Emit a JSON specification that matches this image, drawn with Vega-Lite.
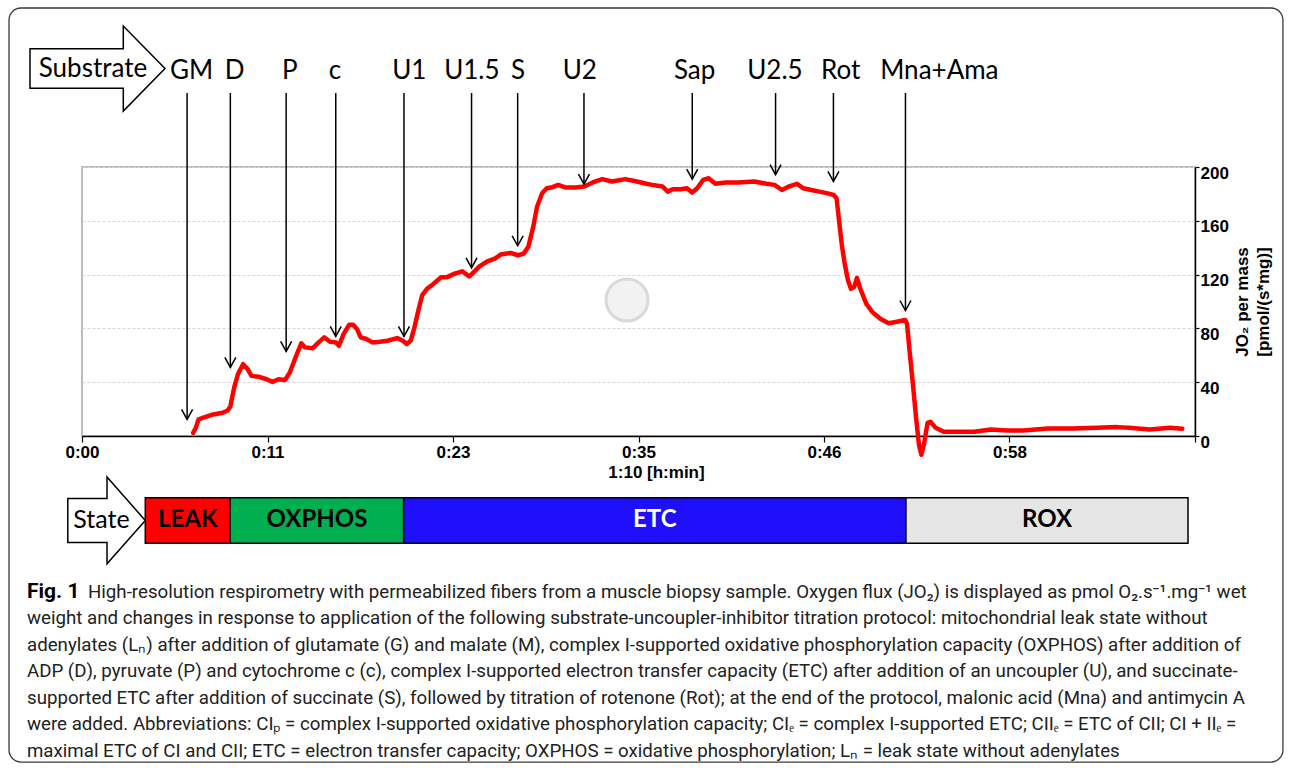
{
  "$schema": "https://vega.github.io/schema/vega-lite/v6.json",
  "width": 1113,
  "height": 269,
  "autosize": {"type": "none"},
  "padding": {"left": 82, "top": 167, "right": 97, "bottom": 336},
  "background": "white",
  "config": {
    "view": {"stroke": "#a6a6a6", "strokeWidth": 1.5},
    "axis": {"labelFont": "Liberation Sans", "titleFont": "Liberation Sans", "labelFontWeight": "bold", "titleFontWeight": "bold", "labelColor": "black", "titleColor": "black", "labelFontSize": 17, "titleFontSize": 17, "domainColor": "black", "tickColor": "black", "domainWidth": 1.5, "tickWidth": 1.2, "labelOverlap": false, "labelFlush": false}
  },
  "datasets": {
    "trace": [
      {"t": 6.99, "v": 2.3}, {"t": 7.16, "v": 6.1}, {"t": 7.33, "v": 12.3}, {"t": 7.64, "v": 13.6}, {"t": 8.25, "v": 16}, {"t": 8.85, "v": 17.3}, {"t": 9.16, "v": 19}, {"t": 9.33, "v": 22}, {"t": 9.57, "v": 36}, {"t": 9.81, "v": 46}, {"t": 10.13, "v": 53.4}, {"t": 10.42, "v": 49.7}, {"t": 10.66, "v": 44.7}, {"t": 11.14, "v": 44}, {"t": 11.62, "v": 42.2}, {"t": 11.98, "v": 40.2}, {"t": 12.35, "v": 42.2}, {"t": 12.78, "v": 41.7}, {"t": 13.07, "v": 47.2}, {"t": 13.43, "v": 58.4}, {"t": 13.79, "v": 68.9}, {"t": 14.03, "v": 65.9}, {"t": 14.52, "v": 65.3}, {"t": 14.88, "v": 69.6}, {"t": 15.24, "v": 73.3}, {"t": 15.6, "v": 70.1}, {"t": 15.96, "v": 69.6}, {"t": 16.16, "v": 67.1}, {"t": 16.45, "v": 75.8}, {"t": 16.81, "v": 82.8}, {"t": 17.05, "v": 82.8}, {"t": 17.29, "v": 79.6}, {"t": 17.53, "v": 73.3}, {"t": 17.89, "v": 72.1}, {"t": 18.26, "v": 69.6}, {"t": 18.74, "v": 70.1}, {"t": 19.22, "v": 70.8}, {"t": 19.82, "v": 72.8}, {"t": 20.18, "v": 70.8}, {"t": 20.42, "v": 68.4}, {"t": 20.67, "v": 70.8}, {"t": 20.91, "v": 80.8}, {"t": 21.15, "v": 93.2}, {"t": 21.39, "v": 104.5}, {"t": 21.7, "v": 109.5}, {"t": 21.99, "v": 112}, {"t": 22.35, "v": 115.6}, {"t": 22.59, "v": 118.1}, {"t": 22.96, "v": 118.1}, {"t": 23.44, "v": 120.7}, {"t": 23.92, "v": 122.4}, {"t": 24.36, "v": 118.6}, {"t": 24.64, "v": 121.9}, {"t": 25.0, "v": 126.1}, {"t": 25.49, "v": 129.9}, {"t": 25.97, "v": 131.9}, {"t": 26.33, "v": 134.9}, {"t": 26.94, "v": 136.1}, {"t": 27.42, "v": 134.4}, {"t": 27.78, "v": 135.6}, {"t": 28.07, "v": 140.6}, {"t": 28.38, "v": 155.5}, {"t": 28.62, "v": 170.5}, {"t": 28.94, "v": 180.5}, {"t": 29.23, "v": 184.2}, {"t": 29.59, "v": 185}, {"t": 29.95, "v": 186.7}, {"t": 30.43, "v": 184.7}, {"t": 31.04, "v": 184.7}, {"t": 31.59, "v": 185.5}, {"t": 32.12, "v": 188.5}, {"t": 32.72, "v": 191}, {"t": 33.33, "v": 189.2}, {"t": 34.17, "v": 191}, {"t": 34.89, "v": 189.2}, {"t": 35.5, "v": 187.5}, {"t": 35.87, "v": 186.7}, {"t": 36.51, "v": 185.5}, {"t": 36.84, "v": 181.7}, {"t": 37.15, "v": 183.5}, {"t": 37.66, "v": 183.5}, {"t": 38.05, "v": 184.2}, {"t": 38.38, "v": 181}, {"t": 38.69, "v": 184.2}, {"t": 39.07, "v": 190.4}, {"t": 39.41, "v": 191.7}, {"t": 39.84, "v": 187.5}, {"t": 40.48, "v": 188.5}, {"t": 41.25, "v": 188.5}, {"t": 42.28, "v": 189.2}, {"t": 43.05, "v": 187.5}, {"t": 43.56, "v": 186.7}, {"t": 44.02, "v": 182.9}, {"t": 44.46, "v": 185.5}, {"t": 44.97, "v": 187.5}, {"t": 45.36, "v": 184.2}, {"t": 45.87, "v": 182.9}, {"t": 46.38, "v": 181.7}, {"t": 46.89, "v": 180.4}, {"t": 47.28, "v": 179.2}, {"t": 47.46, "v": 176.7}, {"t": 47.61, "v": 160.5}, {"t": 47.79, "v": 141.8}, {"t": 47.97, "v": 128.1}, {"t": 48.18, "v": 115.6}, {"t": 48.36, "v": 109.5}, {"t": 48.56, "v": 110.7}, {"t": 48.74, "v": 117.6}, {"t": 48.95, "v": 109.5}, {"t": 49.33, "v": 98.2}, {"t": 49.72, "v": 92}, {"t": 50.23, "v": 87}, {"t": 50.74, "v": 83.8}, {"t": 51.25, "v": 85}, {"t": 51.77, "v": 86.3}, {"t": 51.89, "v": 83.3}, {"t": 52.07, "v": 60.8}, {"t": 52.28, "v": 35.9}, {"t": 52.48, "v": 11}, {"t": 52.64, "v": -6.4}, {"t": 52.79, "v": -13.9}, {"t": 52.97, "v": -5.1}, {"t": 53.18, "v": 9.8}, {"t": 53.36, "v": 10.6}, {"t": 53.69, "v": 6.1}, {"t": 54.2, "v": 3.1}, {"t": 55.1, "v": 3.1}, {"t": 56.13, "v": 3.1}, {"t": 57.15, "v": 4.8}, {"t": 58.18, "v": 4.1}, {"t": 59.2, "v": 4.1}, {"t": 60.74, "v": 5.6}, {"t": 62.28, "v": 5.6}, {"t": 63.82, "v": 6.1}, {"t": 65.1, "v": 6.6}, {"t": 65.87, "v": 6.1}, {"t": 67.15, "v": 4.8}, {"t": 68.43, "v": 6.1}, {"t": 69.2, "v": 5.4}
    ],
    "injections": [
      {"label": "GM", "t": 6.61, "tip": 12.3, "lt": 6.89},
      {"label": "D", "t": 9.33, "tip": 51, "lt": 9.6},
      {"label": "P", "t": 12.84, "tip": 62.9, "lt": 13.07},
      {"label": "c", "t": 15.96, "tip": 74, "lt": 15.91},
      {"label": "U1", "t": 20.25, "tip": 74, "lt": 20.58},
      {"label": "U1.5", "t": 24.5, "tip": 125, "lt": 24.52},
      {"label": "S", "t": 27.4, "tip": 141.4, "lt": 27.42},
      {"label": "U2", "t": 31.57, "tip": 187.3, "lt": 31.31},
      {"label": "Sap", "t": 38.38, "tip": 191, "lt": 38.53},
      {"label": "U2.5", "t": 43.62, "tip": 194.3, "lt": 43.58},
      {"label": "Rot", "t": 47.26, "tip": 189.3, "lt": 47.72},
      {"label": "Mna+Ama", "t": 51.79, "tip": 93.3, "lt": 53.92}
    ],
    "states": [
      {"state": "LEAK", "start": 3.98, "end": 9.32},
      {"state": "OXPHOS", "start": 9.32, "end": 20.23},
      {"state": "ETC", "start": 20.23, "end": 51.82},
      {"state": "ROX", "start": 51.82, "end": 69.56}
    ]
  },
  "layer": [
    {
      "data": {"name": "trace"},
      "mark": {"type": "line", "color": "#ff0000", "strokeWidth": 4.5, "strokeJoin": "round", "strokeCap": "round", "clip": false},
      "encoding": {
        "x": {
          "field": "t", "type": "quantitative",
          "scale": {"domain": [0, 70], "nice": false, "zero": false},
          "axis": {
            "title": "1:10 [h:min]",
            "orient": "bottom",
            "values": [0, 11.6667, 23.3333, 35, 46.6667, 58.3333, 70],
            "labelExpr": "datum.value < 69 ? ('0:' + (floor(datum.value + 0.001) < 10 ? '0' : '') + floor(datum.value + 0.001)) : ''",
            "tickSize": 6,
            "labelPadding": 2,
            "labelFlush": false,
            "labelOverlap": false,
            "grid": false,
            "titleX": 574,
            "titleY": 36,
            "titleBaseline": "middle"
          }
        },
        "y": {
          "field": "v", "type": "quantitative",
          "scale": {"domain": [0, 200], "nice": false, "zero": false},
          "axis": {
            "orient": "right",
            "title": ["JO₂ per mass", "[pmol/(s*mg)]"],
            "titleAngle": 270,
            "titleLineHeight": 21,
            "values": [0, 40, 80, 120, 160, 200],
            "tickSize": 4,
            "labelBaseline": "top",
            "labelOffset": -2,
            "labelPadding": 1,
            "labelOverlap": false,
            "grid": true,
            "gridColor": "#d6d6d6",
            "gridDash": [3, 2],
            "titlePadding": 2
          }
        }
      }
    },
    {
      "data": {"values": [{}]},
      "mark": {"type": "point", "shape": "circle", "size": 1764, "filled": true, "fill": "#f2f2f2", "stroke": "#d9d9d9", "strokeWidth": 3, "opacity": 1},
      "encoding": {
        "x": {"datum": 34.28, "type": "quantitative"},
        "y": {"datum": 101.1, "type": "quantitative"}
      }
    },
    {
      "data": {"values": [{}]},
      "mark": {"type": "rect", "filled": false, "stroke": "#3a3a3a", "strokeWidth": 1.3, "cornerRadius": 12},
      "encoding": {
        "x": {"datum": -4.59, "type": "quantitative"},
        "x2": {"datum": 75.53, "type": "quantitative"},
        "y": {"datum": 318.2, "type": "quantitative"},
        "y2": {"datum": -242.4, "type": "quantitative"}
      }
    },
    {
      "data": {"name": "injections"},
      "mark": {"type": "rule", "color": "black", "strokeWidth": 1.5},
      "encoding": {
        "x": {"field": "t", "type": "quantitative"},
        "y": {"field": "tip", "type": "quantitative"},
        "y2": {"datum": 255, "type": "quantitative"}
      }
    },
    {
      "data": {"name": "injections"},
      "mark": {"type": "point", "shape": "M-0.55,-1L0,0L0.55,-1", "size": 400, "filled": false, "stroke": "black", "strokeWidth": 1.5, "opacity": 1},
      "encoding": {
        "x": {"field": "t", "type": "quantitative"},
        "y": {"field": "tip", "type": "quantitative"}
      }
    },
    {
      "data": {"name": "injections"},
      "mark": {"type": "text", "font": "Lato", "fontSize": 26, "color": "black", "baseline": "middle", "align": "center"},
      "encoding": {
        "x": {"field": "lt", "type": "quantitative"},
        "y": {"datum": 271.4, "type": "quantitative"},
        "text": {"field": "label"}
      }
    },
    {
      "data": {"values": [{}]},
      "mark": {"type": "point", "shape": "M-1,-0.293L0.382,-0.293L0.382,-0.63L1,0L0.382,0.63L0.382,0.293L-1,0.293Z", "size": 18225, "filled": true, "fill": "white", "stroke": "black", "strokeWidth": 1.5, "opacity": 1},
      "encoding": {
        "x": {"datum": 0.975, "type": "quantitative"},
        "y": {"datum": 273.2, "type": "quantitative"}
      }
    },
    {
      "data": {"values": [{"label": "Substrate"}]},
      "mark": {"type": "text", "font": "Lato", "fontSize": 26, "color": "black", "baseline": "middle", "align": "center"},
      "encoding": {
        "x": {"datum": 0.69, "type": "quantitative"},
        "y": {"datum": 272.9, "type": "quantitative"},
        "text": {"field": "label"}
      }
    },
    {
      "data": {"name": "states"},
      "mark": {"type": "rect", "stroke": "black", "strokeWidth": 1.5},
      "encoding": {
        "x": {"field": "start", "type": "quantitative"},
        "x2": {"field": "end"},
        "y": {"datum": -45.9, "type": "quantitative"},
        "y2": {"datum": -79.8, "type": "quantitative"},
        "color": {"field": "state", "type": "nominal", "legend": null, "scale": {"domain": ["LEAK", "OXPHOS", "ETC", "ROX"], "range": ["#ff0000", "#00b050", "#1f0ffb", "#e6e6e6"]}}
      }
    },
    {
      "data": {"name": "states"},
      "transform": [{"calculate": "(datum.start + datum.end) / 2", "as": "mid"}],
      "mark": {"type": "text", "font": "Lato", "fontSize": 24, "fontWeight": "bold", "baseline": "middle", "align": "center"},
      "encoding": {
        "x": {"field": "mid", "type": "quantitative"},
        "y": {"datum": -62.8, "type": "quantitative"},
        "text": {"field": "state"},
        "color": {"condition": {"test": "datum.state == 'ETC'", "value": "white"}, "value": "black"}
      }
    },
    {
      "data": {"values": [{}]},
      "mark": {"type": "point", "shape": "M-1,-0.57L0.012,-0.57L0.012,-1.12L1,0L0.012,1.12L0.012,0.57L-1,0.57Z", "size": 6006, "filled": true, "fill": "white", "stroke": "black", "strokeWidth": 1.5, "opacity": 1},
      "encoding": {
        "x": {"datum": 1.544, "type": "quantitative"},
        "y": {"datum": -62.8, "type": "quantitative"}
      }
    },
    {
      "data": {"values": [{"label": "State"}]},
      "mark": {"type": "text", "font": "Lato", "fontSize": 25, "color": "black", "baseline": "middle", "align": "center"},
      "encoding": {
        "x": {"datum": 1.226, "type": "quantitative"},
        "y": {"datum": -62.8, "type": "quantitative"},
        "text": {"field": "label"}
      }
    },
    {
      "data": {"values": [{"label": "Fig. 1"}]},
      "mark": {"type": "text", "font": "Roboto", "fontSize": 21, "fontWeight": "bold", "color": "black", "baseline": "alphabetic", "align": "left"},
      "encoding": {
        "x": {"datum": -3.46, "type": "quantitative"},
        "y": {"datum": -120.1, "type": "quantitative"},
        "text": {"field": "label"}
      }
    },
    {
      "data": {"values": [
        {"label": "High-resolution respirometry with permeabilized fibers from a muscle biopsy sample. Oxygen flux (JO₂) is displayed as pmol O₂.s⁻¹.mg⁻¹ wet"}
      ]},
      "mark": {"type": "text", "font": "Roboto", "fontSize": 18.7, "color": "#222222", "baseline": "alphabetic", "align": "left", "dx": 61},
      "encoding": {
        "x": {"datum": -3.46, "type": "quantitative"},
        "y": {"datum": -120.1, "type": "quantitative"},
        "text": {"field": "label"}
      }
    },
    {
      "data": {"values": [{}]},
      "mark": {
        "type": "text", "font": "Roboto", "fontSize": 18.7, "color": "#222222", "baseline": "alphabetic", "align": "left", "lineHeight": 26.5,
        "text": [
          "weight and changes in response to application of the following substrate-uncoupler-inhibitor titration protocol: mitochondrial leak state without",
          "adenylates (Lₙ) after addition of glutamate (G) and malate (M), complex I-supported oxidative phosphorylation capacity (OXPHOS) after addition of",
          "ADP (D), pyruvate (P) and cytochrome c (c), complex I-supported electron transfer capacity (ETC) after addition of an uncoupler (U), and succinate-",
          "supported ETC after addition of succinate (S), followed by titration of rotenone (Rot); at the end of the protocol, malonic acid (Mna) and antimycin A",
          "were added. Abbreviations: CIₚ = complex I-supported oxidative phosphorylation capacity; CIₑ = complex I-supported ETC; CIIₑ = ETC of CII; CI + IIₑ =",
          "maximal ETC of CI and CII; ETC = electron transfer capacity; OXPHOS = oxidative phosphorylation; Lₙ = leak state without adenylates"
        ]
      },
      "encoding": {
        "x": {"datum": -3.46, "type": "quantitative"},
        "y": {"datum": -139.8, "type": "quantitative"}
      }
    }
  ]
}
